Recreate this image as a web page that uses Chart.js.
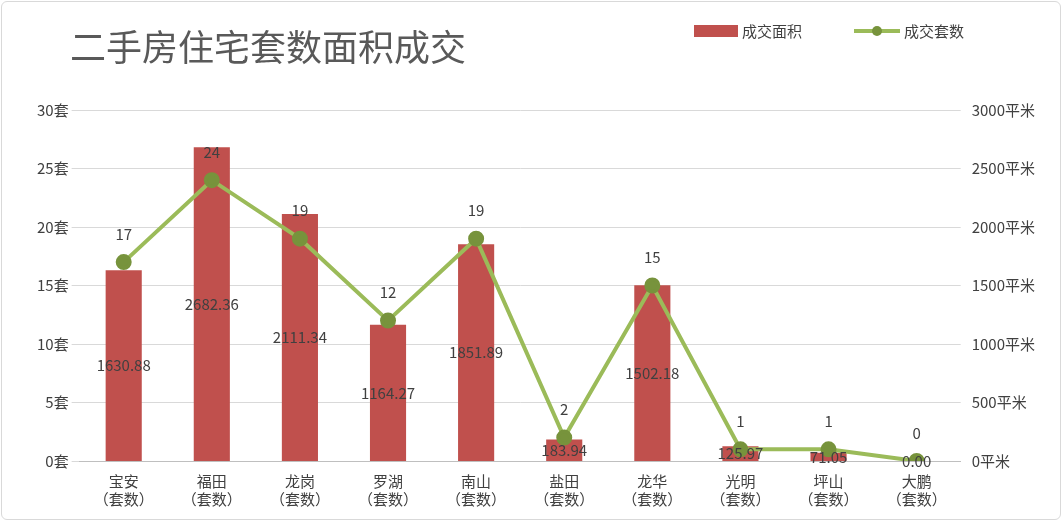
<!DOCTYPE html>
<html>
<head>
<meta charset="utf-8">
<script src="https://cdn.jsdelivr.net/npm/chart.js@4/dist/chart.umd.min.js"></script>
<style>
  html, body { margin: 0; padding: 0; background: #fff; }
  #wrap { position: absolute; left: 1px; top: 1px; width: 1060px; height: 519px; border: 1px solid #d9d9d9; border-radius: 6px; box-sizing: border-box; }
  canvas { display: block; }
</style>
</head>
<body>
<div id="wrap"><canvas id="c" width="1060" height="519"></canvas></div>
<script>
// Données du graphique
const districts = ['宝安', '福田', '龙岗', '罗湖', '南山', '盐田', '龙华', '光明', '坪山', '大鹏'];
const areaValues = [1630.88, 2682.36, 2111.34, 1164.27, 1851.89, 183.94, 1502.18, 125.97, 71.05, 0];
const countValues = [17, 24, 19, 12, 19, 2, 15, 1, 1, 0];

const font = '"Noto Sans CJK SC", "Noto Sans", sans-serif';

// Étiquettes des valeurs
const valueLabels = {
    id: 'valueLabels',
    afterDatasetsDraw(chart) {
        const ctx = chart.ctx;
        ctx.save();
        ctx.font = '15px ' + font;
        ctx.fillStyle = '#404040';
        ctx.textAlign = 'center';
        ctx.textBaseline = 'middle';
        chart.getDatasetMeta(0).data.forEach((bar, i) => {
            const mid = (bar.y + bar.base) / 2;
            ctx.fillText(areaValues[i].toFixed(2), bar.x, mid);
        });
        chart.getDatasetMeta(1).data.forEach((pt, i) => {
            ctx.fillText(String(countValues[i]), pt.x, pt.y - 28);
        });
        ctx.restore();
    }
};

// Titre et légende dessinés à la main
const titleLegend = {
    id: 'titleLegend',
    afterDraw(chart) {
        const ctx = chart.ctx;
        ctx.save();
        ctx.font = '36px "Noto Sans CJK SC", serif';
        ctx.fillStyle = '#595959';
        ctx.textBaseline = 'middle';
        ctx.fillText('二手房住宅套数面积成交', 68, 45);

        ctx.font = '15px ' + font;
        ctx.fillStyle = '#404040';
        // légende barres
        ctx.fillStyle = '#c0504d';
        ctx.fillRect(692, 23, 44, 12);
        ctx.fillStyle = '#404040';
        ctx.fillText('成交面积', 740, 29);
        // légende ligne
        ctx.strokeStyle = '#9bbb59';
        ctx.lineWidth = 4;
        ctx.beginPath();
        ctx.moveTo(852, 29);
        ctx.lineTo(898, 29);
        ctx.stroke();
        ctx.fillStyle = '#77933c';
        ctx.beginPath();
        ctx.arc(875, 29, 5, 0, Math.PI * 2);
        ctx.fill();
        ctx.fillStyle = '#404040';
        ctx.fillText('成交套数', 902, 29);
        ctx.restore();
    }
};

new Chart(document.getElementById('c'), {
    data: {
        labels: districts.map(d => [d, '（套数）']),
        datasets: [{
            type: 'bar',
            label: '成交面积',
            data: areaValues,
            yAxisID: 'y1',
            backgroundColor: '#c0504d',
            categoryPercentage: 0.41,
            barPercentage: 1,
            order: 2
        }, {
            type: 'line',
            label: '成交套数',
            data: countValues,
            yAxisID: 'y',
            borderColor: '#9bbb59',
            backgroundColor: '#77933c',
            pointBackgroundColor: '#77933c',
            pointBorderColor: '#77933c',
            borderWidth: 4,
            pointRadius: 6,
            tension: 0,
            order: 1
        }]
    },
    options: {
        responsive: false,
        animation: false,
        layout: { padding: { left: 32, right: 24, top: 108, bottom: 10 } },
        plugins: {
            legend: { display: false },
            tooltip: { enabled: false }
        },
        scales: {
            x: {
                grid: { display: false },
                border: { color: '#bfbfbf' },
                ticks: { font: { family: font, size: 15 }, color: '#404040' }
            },
            y: {
                position: 'left',
                min: 0, max: 30,
                ticks: { stepSize: 5, callback: v => v + '套', font: { family: font, size: 15 }, color: '#404040' },
                grid: { color: '#d9d9d9' },
                border: { display: false }
            },
            y1: {
                position: 'right',
                min: 0, max: 3000,
                ticks: { stepSize: 500, callback: v => v + '平米', font: { family: font, size: 15 }, color: '#404040' },
                grid: { display: false },
                border: { display: false }
            }
        }
    },
    plugins: [valueLabels, titleLegend]
});
</script>
</body>
</html>
